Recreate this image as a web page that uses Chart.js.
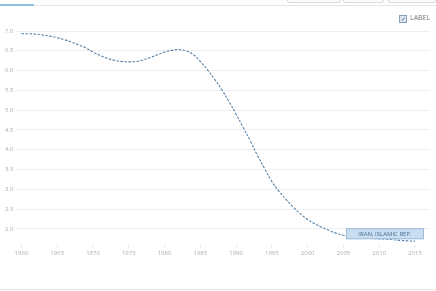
<!DOCTYPE html>
<html>
<head>
<meta charset="utf-8">
<script src="https://cdn.jsdelivr.net/npm/chart.js@4"></script>
<style>
  body { margin: 0; background: #fff; font-family: "Open Sans", sans-serif; }
  #wrap { position: relative; width: 436px; height: 291px; overflow: hidden; }
  .topline { position: absolute; left: 0; top: 5px; width: 436px; height: 1px; background: #e6e6e6; }
  .tab { position: absolute; left: 0; top: 4px; width: 34px; height: 2px; background: #8cc1e6; }
  .btn { position: absolute; top: -6px; height: 7px; border: 1px solid #ddd; border-radius: 2px; background: #fafafa; }
  .bottomline { position: absolute; left: 0; top: 289px; width: 436px; height: 1px; background: #e6e6e6; }
  .legend { position: absolute; left: 399px; top: 13px; font-size: 7px; color: #777; line-height: 9px; }
  .legend .box { display: inline-block; width: 6px; height: 6px; border: 1px solid #8aa2bd; background: #dde7f2;
                 vertical-align: -1px; margin-right: 3px; font-size: 6px; line-height: 6px; color: #3d5f85; text-align: center; }
  #chartBox { position: absolute; left: 0; top: 0; width: 436px; height: 259px; }
</style>
</head>
<body>
<div id="wrap">
  <div class="topline"></div>
  <div class="tab"></div>
  <div class="btn" style="left:287px;width:52px"></div>
  <div class="btn" style="left:343px;width:39px"></div>
  <div class="btn" style="left:388px;width:46px"></div>
  <div class="legend"><span class="box">&#10003;</span>LABEL</div>
  <div id="chartBox"><canvas id="chart"></canvas></div>
  <div class="bottomline"></div>
</div>
<script>
// fertility rate, births per woman
const years = [
  1960, 1961, 1962, 1963, 1964, 1965, 1966, 1967, 1968, 1969,
  1970, 1971, 1972, 1973, 1974, 1975, 1976, 1977, 1978, 1979,
  1980, 1981, 1982, 1983, 1984, 1985, 1986, 1987, 1988, 1989,
  1990, 1991, 1992, 1993, 1994, 1995, 1996, 1997, 1998, 1999,
  2000, 2001, 2002, 2003, 2004, 2005, 2006, 2007, 2008, 2009,
  2010, 2011, 2012, 2013, 2014, 2015
];
const iranValues = [
  6.93, 6.93, 6.92, 6.90, 6.87, 6.83, 6.78, 6.72, 6.65, 6.57,
  6.47, 6.38, 6.31, 6.26, 6.23, 6.22, 6.23, 6.27, 6.33, 6.40,
  6.47, 6.51, 6.53, 6.50, 6.41, 6.23, 6.02, 5.78, 5.52, 5.22,
  4.90, 4.56, 4.22, 3.85, 3.52, 3.20, 2.95, 2.74, 2.55, 2.38,
  2.24, 2.13, 2.04, 1.96, 1.89, 1.84, 1.81, 1.79, 1.77, 1.76,
  1.75, 1.74, 1.73, 1.71, 1.70, 1.69
];
const seriesLabel = 'IRAN, ISLAMIC REP.';
const yTicks = [2.0, 2.5, 3.0, 3.5, 4.0, 4.5, 5.0, 5.5, 6.0, 6.5, 7.0];
const xTicks = [1960, 1965, 1970, 1975, 1980, 1985, 1990, 1995, 2000, 2005, 2010, 2015];

// label box next to the last point
const endLabel = {
  id: 'endLabel',
  afterDatasetsDraw(chart) {
    const meta = chart.getDatasetMeta(0);
    const last = meta.data[meta.data.length - 1];
    const ctx = chart.ctx;
    ctx.save();
    ctx.font = '6px "Open Sans"';
    const w = 78, h = 11;
    const x = last.x + 9 - w, y = last.y - 2 - h;
    ctx.fillStyle = '#c9def0';
    ctx.strokeStyle = '#9dbbd8';
    ctx.lineWidth = 1;
    ctx.fillRect(x, y, w, h);
    ctx.strokeRect(x + 0.5, y + 0.5, w - 1, h - 1);
    ctx.fillStyle = '#4d6f96';
    ctx.textAlign = 'center';
    ctx.textBaseline = 'middle';
    ctx.fillText(seriesLabel, x + w / 2, y + h / 2 + 0.5);
    ctx.restore();
  }
};

new Chart(document.getElementById('chart'), {
  type: 'line',
  data: {
    datasets: [{
      label: seriesLabel,
      data: years.map((y, i) => ({ x: y, y: iranValues[i] })),
      borderColor: '#5580a9',
      borderWidth: 1.1,
      borderDash: [2.5, 1.5],
      pointRadius: 0,
      tension: 0.4,
      fill: false
    }]
  },
  options: {
    responsive: true,
    maintainAspectRatio: false,
    animation: false,
    layout: { padding: { top: 31, left: 2, right: 6, bottom: 0 } },
    plugins: { legend: { display: false }, tooltip: { enabled: false } },
    scales: {
      x: {
        type: 'linear',
        min: 1959.3,
        max: 2017.1,
        afterBuildTicks: (scale) => { scale.ticks = xTicks.map(v => ({ value: v })); },
        grid: { drawOnChartArea: false, drawTicks: true, tickLength: 3, color: '#e2e2e2' },
        border: { display: false },
        ticks: { color: '#adadad', font: { family: 'Open Sans', size: 6 }, padding: 2, maxRotation: 0,
                 callback: v => String(v) }
      },
      y: {
        min: 1.6,
        max: 7.0,
        afterBuildTicks: (scale) => { scale.ticks = yTicks.map(v => ({ value: v })); },
        grid: { color: '#efefef', drawTicks: false },
        border: { display: false },
        ticks: { color: '#adadad', font: { family: 'Open Sans', size: 6 }, padding: 3,
                 callback: v => v.toFixed(1) }
      }
    }
  },
  plugins: [endLabel]
});
</script>
</body>
</html>
